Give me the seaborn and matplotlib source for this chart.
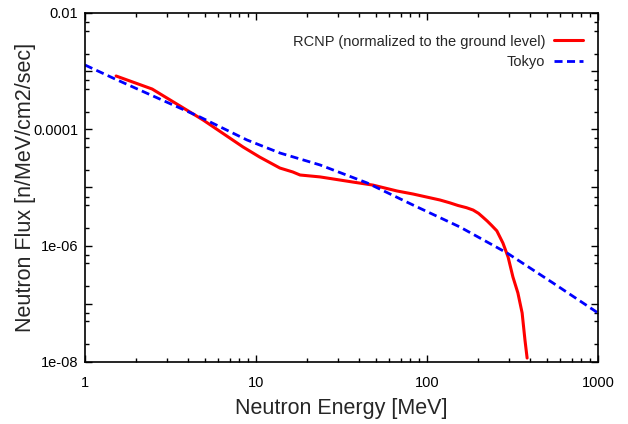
import matplotlib
matplotlib.use("Agg")
import matplotlib.pyplot as plt
import matplotlib.ticker as mticker
import numpy as np
import pandas as pd
import seaborn as sns

# RCNP spectrum (normalized to ground level)
rcnp_energy = [1.52, 2.47, 4.90, 8.40, 10.5, 13.8, 16.4, 18.1, 23.7, 36.9, 48.3,
               66.8, 82.8, 119, 136, 152, 170, 186, 200, 212, 225, 238, 256, 278,
               298, 318, 340, 360, 374, 385]
rcnp_flux = [8.26e-4, 4.93e-4, 1.45e-4, 4.97e-5, 3.34e-5, 2.16e-5, 1.85e-5, 1.64e-5,
             1.52e-5, 1.24e-5, 1.10e-5, 8.71e-6, 7.73e-6, 6.10e-6, 5.45e-6, 4.90e-6,
             4.50e-6, 4.10e-6, 3.60e-6, 3.10e-6, 2.65e-6, 2.25e-6, 1.80e-6, 1.11e-6,
             6.38e-7, 2.90e-7, 1.54e-7, 6.97e-8, 2.39e-8, 1.17e-8]

# Tokyo reference spectrum
tokyo_energy = [1, 1.50, 4.70, 8.86, 13.8, 23.7, 44.6, 82.8, 156, 294, 546, 1000]
tokyo_flux = [1.276e-3, 7.33e-4, 1.63e-4, 6.56e-5, 3.92e-5, 2.44e-5, 1.20e-5,
              5.00e-6, 2.09e-6, 7.48e-7, 2.28e-7, 6.97e-8]

x_ticks = [1, 10, 100, 1000]
x_ticklabels = ["1", "10", "100", "1000"]
y_ticks = [1e-2, 1e-3, 1e-4, 1e-5, 1e-6, 1e-7, 1e-8]
y_ticklabels = ["0.01", "", "0.0001", "", "1e-06", "", "1e-08"]

rcnp = pd.DataFrame({"energy": rcnp_energy, "flux": rcnp_flux})
tokyo = pd.DataFrame({"energy": tokyo_energy, "flux": tokyo_flux})

sns.set_style("ticks")
plt.rcParams["font.family"] = ["Liberation Sans", "DejaVu Sans"]

fig = plt.figure(figsize=(6.28, 4.24), dpi=100)
ax = fig.add_axes([85 / 628, 1 - 362 / 424, 513 / 628, 349 / 424])

sns.lineplot(data=rcnp, x="energy", y="flux", ax=ax, color="#ff0000", linewidth=2.2,
             sort=False, estimator=None, label="RCNP (normalized to the ground level)")
sns.lineplot(data=tokyo, x="energy", y="flux", ax=ax, color="#0000ff", linewidth=2.0,
             sort=False, estimator=None, linestyle=(0, (2.9, 1.6)), label="Tokyo")

ax.set_xscale("log")
ax.set_yscale("log")
ax.set_xlim(1, 1000)
ax.set_ylim(1e-8, 1e-2)

ax.xaxis.set_major_locator(mticker.FixedLocator(x_ticks))
ax.xaxis.set_major_formatter(mticker.FixedFormatter(x_ticklabels))
ax.xaxis.set_minor_locator(mticker.LogLocator(base=10, subs=np.arange(2, 10)))
ax.xaxis.set_minor_formatter(mticker.NullFormatter())
ax.yaxis.set_major_locator(mticker.FixedLocator(y_ticks))
ax.yaxis.set_major_formatter(mticker.FixedFormatter(y_ticklabels))
ax.yaxis.set_minor_locator(mticker.LogLocator(base=10, subs=[2, 5, 7]))
ax.yaxis.set_minor_formatter(mticker.NullFormatter())

ax.tick_params(which="both", direction="in", top=True, right=True, colors="black",
               labelsize=10.5, width=1.0)
ax.tick_params(which="major", length=5)
ax.tick_params(which="minor", length=3)
ax.tick_params(axis="x", which="major", pad=10)
ax.tick_params(axis="y", which="major", pad=5)
for spine in ax.spines.values():
    spine.set_linewidth(1.2)
    spine.set_color("black")

ax.set_xlabel("Neutron Energy [MeV]", fontsize=15.5, labelpad=6)
ax.set_ylabel("Neutron Flux [n/MeV/cm2/sec]", fontsize=15.5, labelpad=-2)

ax.legend(loc="upper right", bbox_to_anchor=(0.982, 0.955), frameon=False,
          markerfirst=False, fontsize=10.5, handlelength=2.0, handletextpad=0.6,
          labelspacing=0.45, borderaxespad=0.0)

fig.savefig("out.png", dpi=100)
